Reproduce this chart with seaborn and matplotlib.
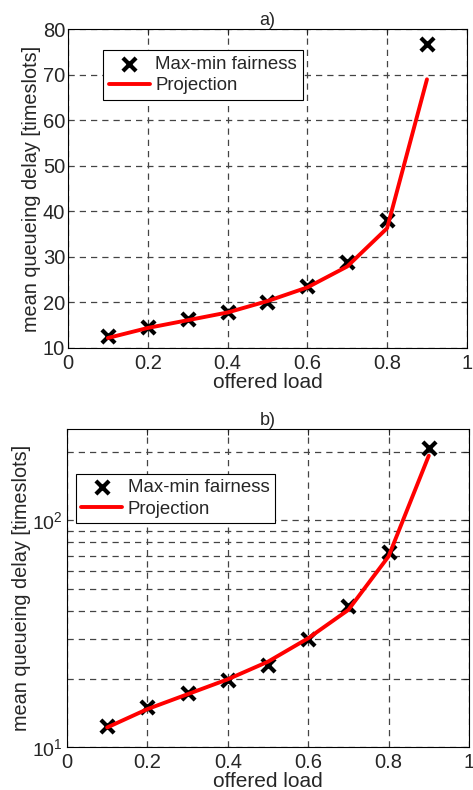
import numpy as np
import pandas as pd
import seaborn as sns
import matplotlib.pyplot as plt
from matplotlib.ticker import LogLocator, NullFormatter

# offered load values
load = [0.1, 0.2, 0.3, 0.4, 0.5, 0.6, 0.7, 0.8, 0.9]

# a) linear scale
sim_a = [12.6, 14.6, 16.4, 18.0, 20.2, 23.7, 28.8, 38.2, 76.8]
proj_a = [12.2, 14.4, 16.1, 17.8, 20.3, 23.3, 27.9, 36.3, 69.0]

# b) log scale
sim_b = [12.4, 15.0, 17.4, 19.7, 22.9, 29.9, 41.8, 72.2, 208.0]
proj_b = [12.2, 14.7, 17.1, 19.9, 23.8, 30.2, 40.3, 69.4, 193.0]

df_a = pd.DataFrame({'load': load, 'sim': sim_a, 'proj': proj_a})
df_b = pd.DataFrame({'load': load, 'sim': sim_b, 'proj': proj_b})

sns.set_style('white')
plt.rcParams['font.family'] = ['Liberation Sans', 'DejaVu Sans']
plt.rcParams['mathtext.fontset'] = 'custom'
plt.rcParams['mathtext.rm'] = 'Liberation Sans'

fig = plt.figure(figsize=(4.73, 7.9), dpi=100)
ax1 = fig.add_axes([0.1438, 0.5595, 0.8432, 0.4035])
ax2 = fig.add_axes([0.1416, 0.0544, 0.8499, 0.4025])


def draw(ax, df, title):
    sns.scatterplot(data=df, x='load', y='sim', marker='x', color='black', s=90,
                    linewidth=3, ax=ax, label='Max-min fairness', zorder=3)
    sns.lineplot(data=df, x='load', y='proj', color='red', lw=2.8, ax=ax,
                 label='Projection', zorder=4)
    ax.set_xlim(0, 1)
    ax.set_xticks([0, 0.2, 0.4, 0.6, 0.8, 1])
    ax.set_xticklabels(['0', '0.2', '0.4', '0.6', '0.8', '1'])
    ax.set_xlabel('offered load', fontsize=15, labelpad=0)
    ax.set_ylabel('mean queueing delay [timeslots]', fontsize=14.3, labelpad=1)
    ax.set_title(title, fontsize=13, pad=3)
    ax.tick_params(axis='both', which='both', direction='in', top=True, right=True,
                   labelsize=14.5, length=4, width=0.8, pad=2)
    ax.tick_params(axis='x', pad=4)
    for s in ax.spines.values():
        s.set_color('black')
        s.set_linewidth(0.8)


draw(ax1, df_a, 'a)')
ax1.set_ylim(10, 80)
ax1.set_yticks(range(10, 81, 10))
ax1.grid(True, which='major', color='#444444', ls=(0, (5, 4)), lw=0.9)

draw(ax2, df_b, 'b)')
ax2.set_yscale('log')
ax2.set_ylim(10, 253)
ax2.yaxis.set_major_locator(LogLocator(base=10))
ax2.yaxis.set_minor_locator(LogLocator(base=10, subs=np.arange(2, 10)))
ax2.yaxis.set_minor_formatter(NullFormatter())
ax2.tick_params(axis='y', labelsize=14, pad=3)
ax2.grid(True, which='major', axis='x', color='#444444', ls=(0, (5, 4)), lw=0.9)
ax2.grid(True, which='both', axis='y', color='#444444', ls=(0, (5, 4)), lw=0.9)

for ax, anchor in [(ax1, (0.088, 0.935)), (ax2, (0.022, 0.86))]:
    h, l = ax.get_legend_handles_labels()
    leg = ax.legend(h, l, loc='upper left', bbox_to_anchor=anchor, fontsize=13.4,
                    frameon=True, fancybox=False, edgecolor='black',
                    framealpha=1, borderpad=0.3, labelspacing=0.25,
                    handlelength=2.2, handletextpad=0.3, borderaxespad=0)
    leg.get_frame().set_linewidth(0.8)

fig.savefig('out.png', dpi=100)
